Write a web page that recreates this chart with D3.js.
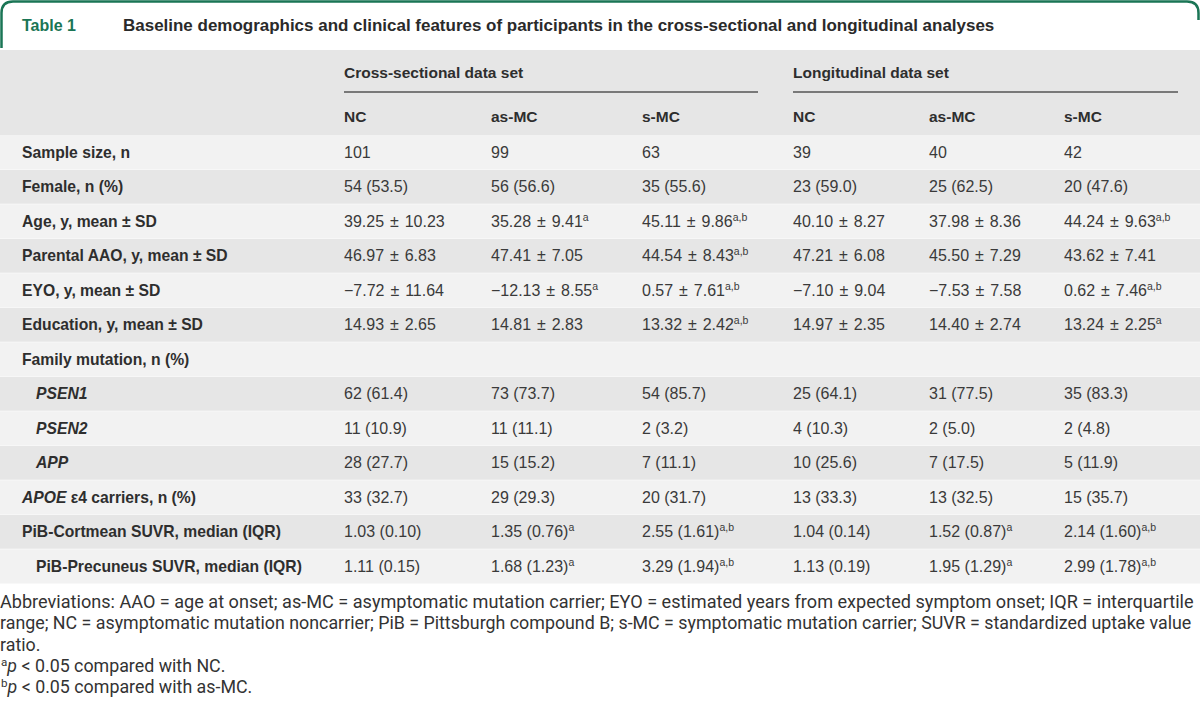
<!DOCTYPE html>
<html>
<head>
<meta charset="utf-8">
<script src="https://cdn.jsdelivr.net/npm/d3@7"></script>
<style>
  html, body { margin: 0; padding: 0; background: #ffffff; }
  svg { display: block; }
</style>
</head>
<body>
<div id="chart"></div>
<script>
// ---------- DATA ----------
const tableNumber = "Table 1";
const tableTitle = "Baseline demographics and clinical features of participants in the cross-sectional and longitudinal analyses";

const groupHeaders = ["Cross-sectional data set", "Longitudinal data set"];
const columnHeaders = ["NC", "as-MC", "s-MC", "NC", "as-MC", "s-MC"];

// label parts: [text, italic]
const rowLabels = [
  [["Sample size, n", false]],
  [["Female, n (%)", false]],
  [["Age, y, mean ± SD", false]],
  [["Parental AAO, y, mean ± SD", false]],
  [["EYO, y, mean ± SD", false]],
  [["Education, y, mean ± SD", false]],
  [["Family mutation, n (%)", false]],
  [["PSEN1", true]],
  [["PSEN2", true]],
  [["APP", true]],
  [["APOE", true], [" ε4 carriers, n (%)", false]],
  [["PiB-Cortmean SUVR, median (IQR)", false]],
  [["PiB-Precuneus SUVR, median (IQR)", false]]
];
const rowIndented = [false, false, false, false, false, false, false, true, true, true, false, false, true];

// values "text^superscript"
const crossNC = ["101", "54 (53.5)", "39.25 ± 10.23", "46.97 ± 6.83", "−7.72 ± 11.64", "14.93 ± 2.65", "", "62 (61.4)", "11 (10.9)", "28 (27.7)", "33 (32.7)", "1.03 (0.10)", "1.11 (0.15)"];
const crossAsMC = ["99", "56 (56.6)", "35.28 ± 9.41^a", "47.41 ± 7.05", "−12.13 ± 8.55^a", "14.81 ± 2.83", "", "73 (73.7)", "11 (11.1)", "15 (15.2)", "29 (29.3)", "1.35 (0.76)^a", "1.68 (1.23)^a"];
const crossSMC = ["63", "35 (55.6)", "45.11 ± 9.86^a,b", "44.54 ± 8.43^a,b", "0.57 ± 7.61^a,b", "13.32 ± 2.42^a,b", "", "54 (85.7)", "2 (3.2)", "7 (11.1)", "20 (31.7)", "2.55 (1.61)^a,b", "3.29 (1.94)^a,b"];
const longNC = ["39", "23 (59.0)", "40.10 ± 8.27", "47.21 ± 6.08", "−7.10 ± 9.04", "14.97 ± 2.35", "", "25 (64.1)", "4 (10.3)", "10 (25.6)", "13 (33.3)", "1.04 (0.14)", "1.13 (0.19)"];
const longAsMC = ["40", "25 (62.5)", "37.98 ± 8.36", "45.50 ± 7.29", "−7.53 ± 7.58", "14.40 ± 2.74", "", "31 (77.5)", "2 (5.0)", "7 (17.5)", "13 (32.5)", "1.52 (0.87)^a", "1.95 (1.29)^a"];
const longSMC = ["42", "20 (47.6)", "44.24 ± 9.63^a,b", "43.62 ± 7.41", "0.62 ± 7.46^a,b", "13.24 ± 2.25^a", "", "35 (83.3)", "2 (4.8)", "5 (11.9)", "15 (35.7)", "2.14 (1.60)^a,b", "2.99 (1.78)^a,b"];
const columnValues = [crossNC, crossAsMC, crossSMC, longNC, longAsMC, longSMC];

const footnoteLines = [
  "Abbreviations: AAO = age at onset; as-MC = asymptomatic mutation carrier; EYO = estimated years from expected symptom onset; IQR = interquartile",
  "range; NC = asymptomatic mutation noncarrier; PiB = Pittsburgh compound B; s-MC = symptomatic mutation carrier; SUVR = standardized uptake value",
  "ratio."
];
const sigNotes = [["a", "compared with NC."], ["b", "compared with as-MC."]];

// ---------- LAYOUT ----------
const W = 1200, H = 709;
const green = "#1a7555";
const textDark = "#2e2e2e";
const valueColor = "#3a3a3a";
const tableFont = "'Liberation Sans', Arial, Helvetica, sans-serif";
const noteFont = "Roboto, 'Liberation Sans', Arial, sans-serif";

const svg = d3.select("#chart").append("svg").attr("width", W).attr("height", H);

// header frame
svg.append("rect").attr("x", 0).attr("y", 0).attr("width", W).attr("height", 50).attr("fill", "#ffffff");
svg.append("path")
  .attr("d", "M1.5,48 V13 Q1.5,1.5 13,1.5 H1187 Q1198.5,1.5 1198.5,13 V20")
  .attr("fill", "none").attr("stroke", green).attr("stroke-width", 2.5);

svg.append("text").attr("x", 22).attr("y", 31)
  .attr("font-family", tableFont).attr("font-weight", 700).attr("font-size", 16)
  .attr("fill", green).text(tableNumber);
const titleText = svg.append("text").attr("x", 123).attr("y", 31)
  .attr("font-family", tableFont).attr("font-weight", 700).attr("font-size", 16)
  .attr("fill", "#2a2a2a").text(tableTitle);
{
  const w = titleText.node().getComputedTextLength();
  titleText.attr("font-size", 16 * 872 / w);
}

// scales
const tableTop = 50, headerBottom = 135, tableBottom = 583.5;
const rowScale = d3.scaleBand().domain(d3.range(rowLabels.length)).range([headerBottom, tableBottom]);
const colScale = d3.scaleOrdinal().domain(d3.range(columnHeaders.length)).range([344, 491, 642, 793, 929, 1064]);
const groupSpan = d3.scaleOrdinal().domain([0, 1]).range([[344, 758], [793, 1178]]);

// header background
svg.append("rect").attr("x", 0).attr("y", tableTop).attr("width", W).attr("height", headerBottom - tableTop).attr("fill", "#e6e6e6");

// row backgrounds
svg.append("g").selectAll("rect").data(rowLabels).join("rect")
  .attr("x", 0).attr("y", (d, i) => rowScale(i))
  .attr("width", W).attr("height", rowScale.bandwidth())
  .attr("fill", (d, i) => i % 2 === 0 ? "#f2f2f2" : "#e6e6e6");
svg.append("g").selectAll("line").data(d3.range(1, rowLabels.length)).join("line")
  .attr("x1", 0).attr("x2", W)
  .attr("y1", i => rowScale(i)).attr("y2", i => rowScale(i))
  .attr("stroke", "#ffffff").attr("stroke-opacity", 0.5).attr("stroke-width", 1);

// group headers
svg.append("g").selectAll("text").data(groupHeaders).join("text")
  .attr("x", (d, i) => groupSpan(i)[0]).attr("y", 78)
  .attr("font-family", tableFont).attr("font-weight", 700).attr("font-size", 15.5)
  .attr("fill", textDark).text(d => d);
svg.append("g").selectAll("line").data(groupHeaders).join("line")
  .attr("x1", (d, i) => groupSpan(i)[0]).attr("x2", (d, i) => groupSpan(i)[1])
  .attr("y1", 92).attr("y2", 92).attr("stroke", "#555").attr("stroke-width", 1.5);

// column headers
svg.append("g").selectAll("text").data(columnHeaders).join("text")
  .attr("x", (d, i) => colScale(i)).attr("y", 121.5)
  .attr("font-family", tableFont).attr("font-weight", 700).attr("font-size", 15.5)
  .attr("fill", textDark).text(d => d);

// row labels
const labelG = svg.append("g");
rowLabels.forEach((parts, i) => {
  const t = labelG.append("text")
    .attr("x", rowIndented[i] ? 36 : 22)
    .attr("y", rowScale(i) + rowScale.bandwidth() / 2 + 5.5)
    .attr("font-family", tableFont).attr("font-weight", 700).attr("font-size", 15.7)
    .attr("fill", textDark);
  parts.forEach(([txt, it]) => {
    t.append("tspan").attr("font-style", it ? "italic" : "normal").text(txt);
  });
});

// values
columnValues.forEach((vals, c) => {
  const g = svg.append("g");
  vals.forEach((v, r) => {
    if (!v) return;
    const [main, sup] = v.split("^");
    const t = g.append("text")
      .attr("x", colScale(c))
      .attr("y", rowScale(r) + rowScale.bandwidth() / 2 + 5.5)
      .attr("font-family", tableFont).attr("font-size", 16)
      .attr("fill", valueColor);
    t.append("tspan").style("word-spacing", main.includes("±") ? "1.5px" : "0px").text(main);
    if (sup) {
      t.append("tspan").attr("font-size", 10.5).attr("dy", -6).text(sup);
    }
  });
});

// footnotes
const noteG = svg.append("g").attr("font-family", noteFont).attr("fill", "#333");
const noteY = d3.scaleLinear().domain([0, 4]).range([608, 693]);
const noteTexts = noteG.selectAll("text.fn").data(footnoteLines).join("text")
  .attr("class", "fn").attr("x", 0).attr("y", (d, i) => noteY(i))
  .attr("font-size", 16).text(d => d);
let noteSize = 16;
{
  const nodes = noteTexts.nodes();
  const w1 = nodes[0].getComputedTextLength();
  const w2 = nodes[1].getComputedTextLength();
  const s1 = 16 * 1194 / w1, s2 = 16 * 1192 / w2;
  noteSize = Math.min(s1, s2);
  noteTexts.attr("font-size", noteSize);
  d3.select(nodes[0]).attr("font-size", s1);
  d3.select(nodes[1]).attr("font-size", s2);
}
sigNotes.forEach(([s, rest], i) => {
  const t = noteG.append("text").attr("x", 1).attr("y", noteY(3 + i)).attr("font-size", noteSize);
  t.append("tspan").attr("font-size", noteSize * 0.65).attr("dy", -6).text(s);
  t.append("tspan").attr("dy", 6).attr("font-style", "italic").text("p");
  t.append("tspan").text(" < 0.05 " + rest);
});
</script>
</body>
</html>
